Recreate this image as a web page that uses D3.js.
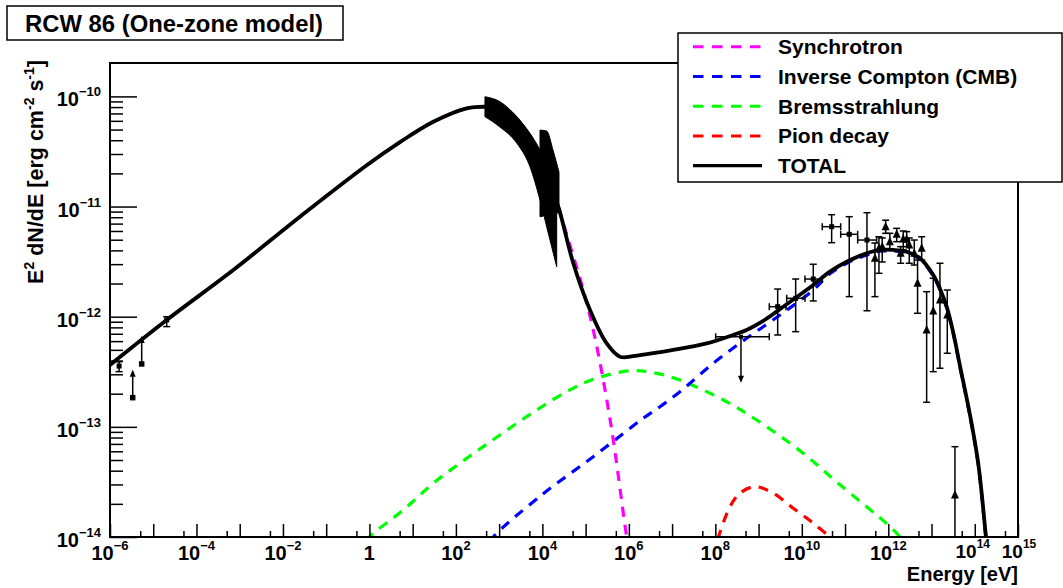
<!DOCTYPE html>
<html><head><meta charset="utf-8">
<script src="https://cdn.jsdelivr.net/npm/d3@7"></script>
<style>
body{margin:0;background:#fff}
svg{display:block}
text{font-family:"Liberation Sans",Arial,Helvetica,sans-serif;font-weight:bold;fill:#000}
</style>
</head><body>
<svg id="c" width="1063" height="588"></svg>
<script>
// ---------- DATA (log10 E [eV], log10 E^2 dN/dE [erg cm^-2 s^-1]) ----------
const titleText = "RCW 86 (One-zone model)";
const xTickExponents = [-6,-4,-2,0,2,4,6,8,10,12,14,15];
const yTickExponents = [-14,-13,-12,-11,-10];

const totalCurve = [
  [-6,-12.438],[-4.689,-12.03],[-3.149,-11.576],[-1.606,-11.092],[-0.063,-10.625],
  [0.707,-10.415],[1.477,-10.23],[2.249,-10.108],[2.633,-10.094],[2.9,-10.09],
  [3.2,-10.13],[3.5,-10.25],[3.8,-10.45],[4.1,-10.72],[4.368,-11.001],
  [4.715,-11.515],[5.101,-11.939],[5.487,-12.242],[5.795,-12.363],[6.257,-12.348],
  [7.027,-12.302],[7.8,-12.242],[8.408,-12.166],[8.724,-12.12],[9.1,-12.04],[9.418,-11.954],
  [9.842,-11.833],[10.265,-11.712],[10.651,-11.591],[11.037,-11.501],[11.5,-11.425],
  [11.808,-11.394],[12.116,-11.394],[12.425,-11.41],[12.733,-11.47],[13.04,-11.621],
  [13.2,-11.75],[13.35,-11.909],[13.5,-12.14],[13.66,-12.45],[13.889,-12.89],[14.08,-13.331],
  [14.26,-14.0],[14.3,-14.15]
];
const synchrotron = [
  [-6,-12.438],[-4.689,-12.03],[-3.149,-11.576],[-1.606,-11.092],[-0.063,-10.625],
  [0.707,-10.415],[1.477,-10.23],[2.249,-10.108],[2.633,-10.094],[2.9,-10.09],
  [3.2,-10.13],[3.5,-10.25],[3.8,-10.45],[4.1,-10.72],[4.368,-11.001],
  [4.483,-11.152],[4.946,-11.758],[5.177,-12.121],[5.408,-12.575],[5.64,-13.119],
  [5.949,-13.997],[6.0,-14.1]
];
const inverseCompton = [
  [2.8,-14.05],[2.865,-14.0],[3.982,-13.619],[5.177,-13.271],[6.334,-12.922],[6.72,-12.817],
  [7.182,-12.681],[7.952,-12.423],[8.724,-12.196],[9.495,-11.985],[10.265,-11.758],
  [10.651,-11.61],[11.037,-11.515],[11.5,-11.44],[11.808,-11.405],[12.116,-11.405],
  [12.425,-11.42],[12.733,-11.48],[13.04,-11.63],[13.2,-11.76],[13.35,-11.92],[13.5,-12.15],
  [13.66,-12.46],[13.889,-12.9],[14.08,-13.34],[14.26,-14.02],[14.3,-14.15]
];
const bremsstrahlung = [
  [-0.05,-14.04],[0,-14.0],[0.783,-13.755],[1.477,-13.512],[2.249,-13.286],[3.019,-13.074],
  [3.868,-12.847],[4.638,-12.665],[5.177,-12.568],[6.026,-12.49],[6.565,-12.508],
  [7.182,-12.575],[8.184,-12.756],[8.955,-12.938],[10.0,-13.23],[10.84,-13.512],
  [12.04,-13.906],[12.27,-14.0],[12.3,-14.02]
];
const pionDecay = [
  [8.05,-14.02],[8.07,-14.0],[8.338,-13.725],[8.569,-13.603],[8.916,-13.543],[9.34,-13.603],
  [9.802,-13.739],[10.265,-13.875],[10.651,-14.0],[10.7,-14.02]
];

// X-ray butterflies: [logE, logF_low, logF_high]
const xrayBandA = [
  [2.672,-10.184,-10.003],[3.019,-10.278,-10.048],[3.406,-10.423,-10.184],
  [3.713,-10.638,-10.335],[3.945,-10.941,-10.487],[4.137,-11.243,-10.65],[4.331,-11.546,-10.941]
];
const xrayBandB = [
  [3.945,-11.093,-10.306],[4.1,-11.077,-10.315],[4.245,-11.052,-10.487],[4.384,-11.059,-10.687]
];

// radio detections: [logE, logF, logF_low, logF_high]
const radioPoints = [
  [-5.79,-12.448,-12.499,-12.409],
  [-4.689,-12.03,-12.09,-12.0]
];
// radio lower limits: [logE, logF]
const radioLowerLimits = [
  [-5.475,-12.735],
  [-5.267,-12.429]
];
// Fermi-LAT: [logE, logE_low, logE_high, logF, logF_low, logF_high]
const fermiPoints = [
  [9.442,9.248,9.634,-11.909,-12.166,-11.749],
  [9.858,9.65,10.073,-11.833,-12.136,-11.658],
  [10.265,10.073,10.473,-11.658,-11.857,-11.524],
  [10.69,10.473,10.899,-11.183,-11.328,-11.074],
  [11.097,10.899,11.292,-11.252,-11.818,-11.092],
  [11.507,11.292,11.731,-11.304,-11.946,-11.056]
];
// Fermi upper limit: [logE, logE_low, logE_high, logF]
const fermiUpperLimits = [
  [8.593,8.008,9.248,-12.182]
];
// H.E.S.S.: [logE, logF, logF_low, logF_high]
const hessPoints = [
  [11.691,-11.47,-11.818,-11.331],[11.784,-11.379,-11.606,-11.274],
  [11.86,-11.364,-11.503,-11.285],[11.939,-11.183,-11.243,-11.124],
  [12.036,-11.319,-11.394,-11.243],[12.194,-11.251,-11.319,-11.198],
  [12.286,-11.424,-11.515,-11.364],[12.346,-11.295,-11.394,-11.222],
  [12.425,-11.297,-11.364,-11.228],[12.485,-11.349,-11.515,-11.285],
  [12.601,-11.424,-11.531,-11.304],[12.677,-11.697,-11.969,-11.485],
  [12.772,-11.379,-11.485,-11.274],[12.887,-12.121,-12.777,-11.773],
  [13.04,-11.948,-12.499,-11.651],[13.195,-11.848,-12.468,-11.515],
  [13.364,-11.985,-12.332,-11.758],[13.542,-13.619,-14.6,-13.18]
];

const legendLabels = ["Synchrotron","Inverse Compton (CMB)","Bremsstrahlung","Pion decay","TOTAL"];
const legendColors = ["#ff00ff","#0000ff","#00ff00","#ff0000","#000000"];

// ---------- DRAW ----------
const P = v => Math.pow(10, v);
const svg = d3.select("#c");
const L = 110, R = 1018, T = 63, B = 537;
const x = d3.scaleLog().domain([1e-6, 1e15]).range([L, R]);
const y = d3.scaleLog().domain([1e-14, 2.01e-10]).range([B, T]);

svg.append("rect").attr("width",1063).attr("height",588).attr("fill","#fff");

svg.append("defs").append("clipPath").attr("id","clip")
  .append("rect").attr("x",L).attr("y",T).attr("width",R-L).attr("height",B-T);

const plot = svg.append("g").attr("clip-path","url(#clip)");

const line = d3.line().x(d=>x(P(d[0]))).y(d=>y(P(d[1]))).curve(d3.curveCatmullRom.alpha(0.5));
const dash = "10,8";

plot.append("path").datum(bremsstrahlung).attr("d",line).attr("fill","none")
  .attr("stroke","#00ff00").attr("stroke-width",3.2).attr("stroke-dasharray",dash);
plot.append("path").datum(pionDecay).attr("d",line).attr("fill","none")
  .attr("stroke","#ff0000").attr("stroke-width",3.2).attr("stroke-dasharray",dash);
plot.append("path").datum(inverseCompton).attr("d",line).attr("fill","none")
  .attr("stroke","#0000ff").attr("stroke-width",3.2).attr("stroke-dasharray",dash);
plot.append("path").datum(synchrotron).attr("d",line).attr("fill","none")
  .attr("stroke","#ff00ff").attr("stroke-width",3.2).attr("stroke-dasharray",dash);
plot.append("path").datum(totalCurve).attr("d",line).attr("fill","none")
  .attr("stroke","#000").attr("stroke-width",3.8);

// butterflies
const band = d3.area().x(d=>x(P(d[0]))).y0(d=>y(P(d[1]))).y1(d=>y(P(d[2]))).curve(d3.curveMonotoneX);
[xrayBandA, xrayBandB].forEach(b=>{
  plot.append("path").datum(b).attr("d",band).attr("fill","#000").attr("stroke","#000").attr("stroke-width",1);
});

const eb = plot.append("g").attr("stroke","#000").attr("stroke-width",1.5).attr("fill","none");
function vErr(e, lo, hi){
  const xx = x(P(e));
  eb.append("line").attr("x1",xx).attr("x2",xx).attr("y1",y(P(lo))).attr("y2",y(P(hi)));
  eb.append("line").attr("x1",xx-3.5).attr("x2",xx+3.5).attr("y1",y(P(lo))).attr("y2",y(P(lo)));
  eb.append("line").attr("x1",xx-3.5).attr("x2",xx+3.5).attr("y1",y(P(hi))).attr("y2",y(P(hi)));
}
function hErr(lo, hi, f){
  const yy = y(P(f));
  eb.append("line").attr("x1",x(P(lo))).attr("x2",x(P(hi))).attr("y1",yy).attr("y2",yy);
  eb.append("line").attr("x1",x(P(lo))).attr("x2",x(P(lo))).attr("y1",yy-3.5).attr("y2",yy+3.5);
  eb.append("line").attr("x1",x(P(hi))).attr("x2",x(P(hi))).attr("y1",yy-3.5).attr("y2",yy+3.5);
}
function arrow(e, f, dir, len){
  const xx = x(P(e)), yy = y(P(f)), ty = yy + dir*len;
  eb.append("line").attr("x1",xx).attr("x2",xx).attr("y1",yy).attr("y2",ty - dir*2);
  plot.append("path").attr("d",`M${xx},${ty} L${xx-3},${ty-dir*7} L${xx+3},${ty-dir*7} Z`).attr("fill","#000");
}
const mk = plot.append("g").attr("fill","#000");
function square(e,f,s){ mk.append("rect").attr("x",x(P(e))-s/2).attr("y",y(P(f))-s/2).attr("width",s).attr("height",s); }
function tri(e,f){ const xx=x(P(e)), yy=y(P(f)); mk.append("path").attr("d",`M${xx},${yy-5} L${xx-4},${yy+3.5} L${xx+4},${yy+3.5} Z`); }

radioPoints.forEach(d=>{ vErr(d[0],d[2],d[3]); square(d[0],d[1],5); });
radioLowerLimits.forEach(d=>{ arrow(d[0],d[1],-1,28); square(d[0],d[1],5.5); });
fermiPoints.forEach(d=>{ vErr(d[0],d[4],d[5]); hErr(d[1],d[2],d[3]); square(d[0],d[3],5); });
fermiUpperLimits.forEach(d=>{ hErr(d[1],d[2],d[3]); arrow(d[0],d[3],1,46); square(d[0],d[3],4); });
hessPoints.forEach(d=>{ vErr(d[0],d[2],d[3]); tri(d[0],d[1]); });

// ---------- AXES ----------
const decades = d3.range(-6,16).map(P);
const halves = d3.range(-6,15).map(e=>5*P(e));
const ax = svg.append("g").attr("transform",`translate(0,${B})`);
ax.call(d3.axisBottom(x).tickValues(decades).tickSize(-13).tickFormat(""));
ax.append("g").call(d3.axisBottom(x).tickValues(halves).tickSize(-6).tickFormat(""));
ax.selectAll(".domain").remove();
ax.selectAll("line").attr("stroke","#000").attr("stroke-width",1.5);

const yMajor = d3.range(-14,-9).map(P);
const yMinor = [];
d3.range(-14,-9).forEach(e=>{ for(let k=2;k<=9;k++){ const v=k*P(e); if(v<2.0e-10) yMinor.push(v);} });
const ay = svg.append("g").attr("transform",`translate(${L},0)`);
ay.call(d3.axisLeft(y).tickValues(yMajor).tickSize(-27).tickFormat(""));
ay.append("g").call(d3.axisLeft(y).tickValues(yMinor).tickSize(-13).tickFormat(""));
ay.selectAll(".domain").remove();
ay.selectAll("line").attr("stroke","#000").attr("stroke-width",1.5);

// frame
svg.append("rect").attr("x",L).attr("y",T).attr("width",R-L).attr("height",B-T)
  .attr("fill","none").attr("stroke","#000").attr("stroke-width",2);

// tick labels
function powLabel(g, ex, xx, yy, anchor, size, supSize){
  const t = g.append("text").attr("x",xx).attr("y",yy).attr("text-anchor",anchor).style("font-size",size+"px");
  if(ex===0){ t.text("1"); return; }
  t.append("tspan").text("10");
  t.append("tspan").attr("dy",-10).style("font-size",supSize+"px").text(ex<0 ? "\u2212"+(-ex) : String(ex));
}
xTickExponents.forEach(ex=>{
  const tight = ex>=14;
  powLabel(svg, ex, x(P(ex)) + (ex===14 ? -2 : ex===15 ? 1 : 0), tight?558:560, "middle", tight?19:20, tight?12:13);
});
yTickExponents.forEach(ex=>powLabel(svg, ex, 101, y(P(ex))+10, "end", 20, 13));

// axis titles
svg.append("text").attr("x",R).attr("y",581).attr("text-anchor","end").style("font-size","20px").text("Energy [eV]");
const yt = svg.append("text").attr("transform","translate(43,60) rotate(-90)").attr("text-anchor","end").style("font-size","21.5px");
yt.append("tspan").text("E");
yt.append("tspan").attr("dy",-9).style("font-size","14px").text("2");
yt.append("tspan").attr("dy",9).text(" dN/dE [erg cm");
yt.append("tspan").attr("dy",-9).style("font-size","14px").text("-2");
yt.append("tspan").attr("dy",9).text(" s");
yt.append("tspan").attr("dy",-9).style("font-size","14px").text("-1");
yt.append("tspan").attr("dy",9).text("]");

// title box
svg.append("rect").attr("x",7).attr("y",6).attr("width",336).attr("height",34)
  .attr("fill","#fff").attr("stroke","#000").attr("stroke-width",1.5);
svg.append("text").attr("x",25).attr("y",32).style("font-size","24.5px")
  .attr("textLength",298).attr("lengthAdjust","spacingAndGlyphs").text(titleText);

// legend
const lg = svg.append("g");
lg.append("rect").attr("x",678).attr("y",33).attr("width",384).attr("height",149)
  .attr("fill","#fff").attr("stroke","#000").attr("stroke-width",1.5);
const rowY = d3.scalePoint().domain(legendLabels).range([46.7,165.7]);
legendLabels.forEach((lab,i)=>{
  const yy = rowY(lab);
  const isTotal = i===legendLabels.length-1;
  lg.append("line").attr("x1",693).attr("x2",762).attr("y1",yy).attr("y2",yy)
    .attr("stroke",legendColors[i]).attr("stroke-width",isTotal?3.2:3)
    .attr("stroke-dasharray",isTotal?null:"10.5,8.5");
  lg.append("text").attr("x",778).attr("y",yy+7.5).style("font-size","21px").text(lab);
});
</script>
</body></html>
